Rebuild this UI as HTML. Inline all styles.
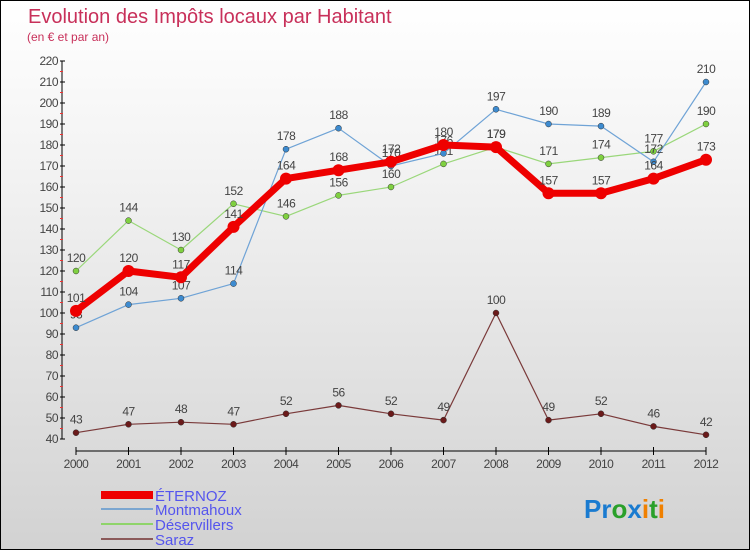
<!DOCTYPE html>
<html><head><meta charset="utf-8"><style>
body{margin:0;}
#wrap{position:relative;width:748px;height:548px;border:1px solid #000;background:linear-gradient(#fff,#f3f3f3 30%,#d2d2d2);overflow:hidden;font-family:"Liberation Sans",sans-serif;}
svg text{font-family:"Liberation Sans",sans-serif;}
</style></head><body>
<div id="wrap">
<svg id="chart" width="750" height="550">
<text x="27" y="22" font-size="20" fill="#c8305a">Evolution des Impôts locaux par Habitant</text>
<text x="26" y="40" font-size="12" fill="#c8305a">(en € et par an)</text>
<g id="axes"></g><g id="series"></g>
<g>
<rect x="100" y="490" width="52" height="8" fill="#e00"/>
<text x="154" y="500" font-size="15" fill="#5555ee">ÉTERNOZ</text>
<line x1="100" y1="508" x2="152" y2="508" stroke="#7ba6d0" stroke-width="2"/>
<text x="154" y="514" font-size="15" fill="#5555ee">Montmahoux</text>
<line x1="100" y1="523" x2="152" y2="523" stroke="#8fd46a" stroke-width="2"/>
<text x="154" y="529" font-size="15" fill="#5555ee">Déservillers</text>
<line x1="100" y1="538" x2="152" y2="538" stroke="#8b5a5a" stroke-width="2"/>
<text x="154" y="544" font-size="15" fill="#5555ee">Saraz</text>
</g>
<text x="583" y="517" font-size="26" font-weight="bold"><tspan fill="#1a7bd0">Pr</tspan><tspan fill="#2aa02a">o</tspan><tspan fill="#1a7bd0">x</tspan><tspan fill="#f08000">i</tspan><tspan fill="#2aa02a">t</tspan><tspan fill="#f08000">i</tspan></text>
</svg></div>
<script>
const years=["2000","2001","2002","2003","2004","2005","2006","2007","2008","2009","2010","2011","2012"];
const eternoz=[101,120,117,141,164,168,172,180,179,157,157,164,173];
const montmahoux=[93,104,107,114,178,188,170,176,197,190,189,172,210];
const deservillers=[120,144,130,152,146,156,160,171,179,171,174,177,190];
const saraz=[43,47,48,47,52,56,52,49,100,49,52,46,42];
const yTicks=[40,50,60,70,80,90,100,110,120,130,140,150,160,170,180,190,200,210,220];
const NS="http://www.w3.org/2000/svg";
function x(i){return 75+i*52.5;}
function y(v){return 438-(v-40)*2.1;}
function mk(tag,attrs,parent,txt){const e=document.createElementNS(NS,tag);for(const k in attrs)e.setAttribute(k,attrs[k]);if(txt!==undefined)e.textContent=txt;parent.appendChild(e);return e;}
const ax=document.getElementById('axes');
let e=mk('line',{x1:61,y1:y(220),x2:61,y2:y(40),stroke:'#000','stroke-width':1},ax);


e=mk('line',{x1:75,y1:450,x2:705,y2:450,stroke:'#000','stroke-width':1},ax);


yTicks.forEach(t=>{
 mk('line',{x1:59,y1:y(t),x2:64,y2:y(t),stroke:'#000'},ax);
 if(t<220)mk('line',{x1:59,y1:y(t+5),x2:62,y2:y(t+5),stroke:'#e33'},ax);
 const l=mk('text',{x:57,y:y(t)+4,'font-size':12,fill:'#444','text-anchor':'end','letter-spacing':'-0.5'},ax,String(t));
 
 
});
years.forEach((yr,i)=>{
 mk('line',{x1:x(i),y1:446,x2:x(i),y2:454,stroke:'#000'},ax);
 const l=mk('text',{x:x(i),y:467,'font-size':12,fill:'#444','text-anchor':'middle','letter-spacing':'-0.5'},ax,yr);
 
 
});
const sg=document.getElementById('series');
function draw(name,data,color,w,r,dot){
 const g=mk('g',{},sg);
 
 
 const p=mk('polyline',{points:data.map((v,i)=>x(i)+','+y(v)).join(' '),fill:'none',stroke:color,'stroke-width':w,'stroke-linejoin':'round'},g);
 
 
 data.forEach((v,i)=>{
  const c=mk('circle',{cx:x(i),cy:y(v),r:r,fill:dot,stroke:'#333','stroke-width':r>4?0:0.5},g);
  
  
  const t=mk('text',{x:x(i),y:y(v)-9,'font-size':12,fill:'#444','text-anchor':'middle','letter-spacing':'-0.5'},g,String(v));
  
  
 });
}
draw('saraz',saraz,'#7a3a3a',1.2,3,'#6b1a1a');
draw('deservillers',deservillers,'#9ad77a',1.2,3,'#7fd040');
draw('montmahoux',montmahoux,'#6fa3d6',1.2,3,'#3d8bd0');
draw('eternoz',eternoz,'#ee0000',7,6,'#ee0000');
</script>
</body></html>
